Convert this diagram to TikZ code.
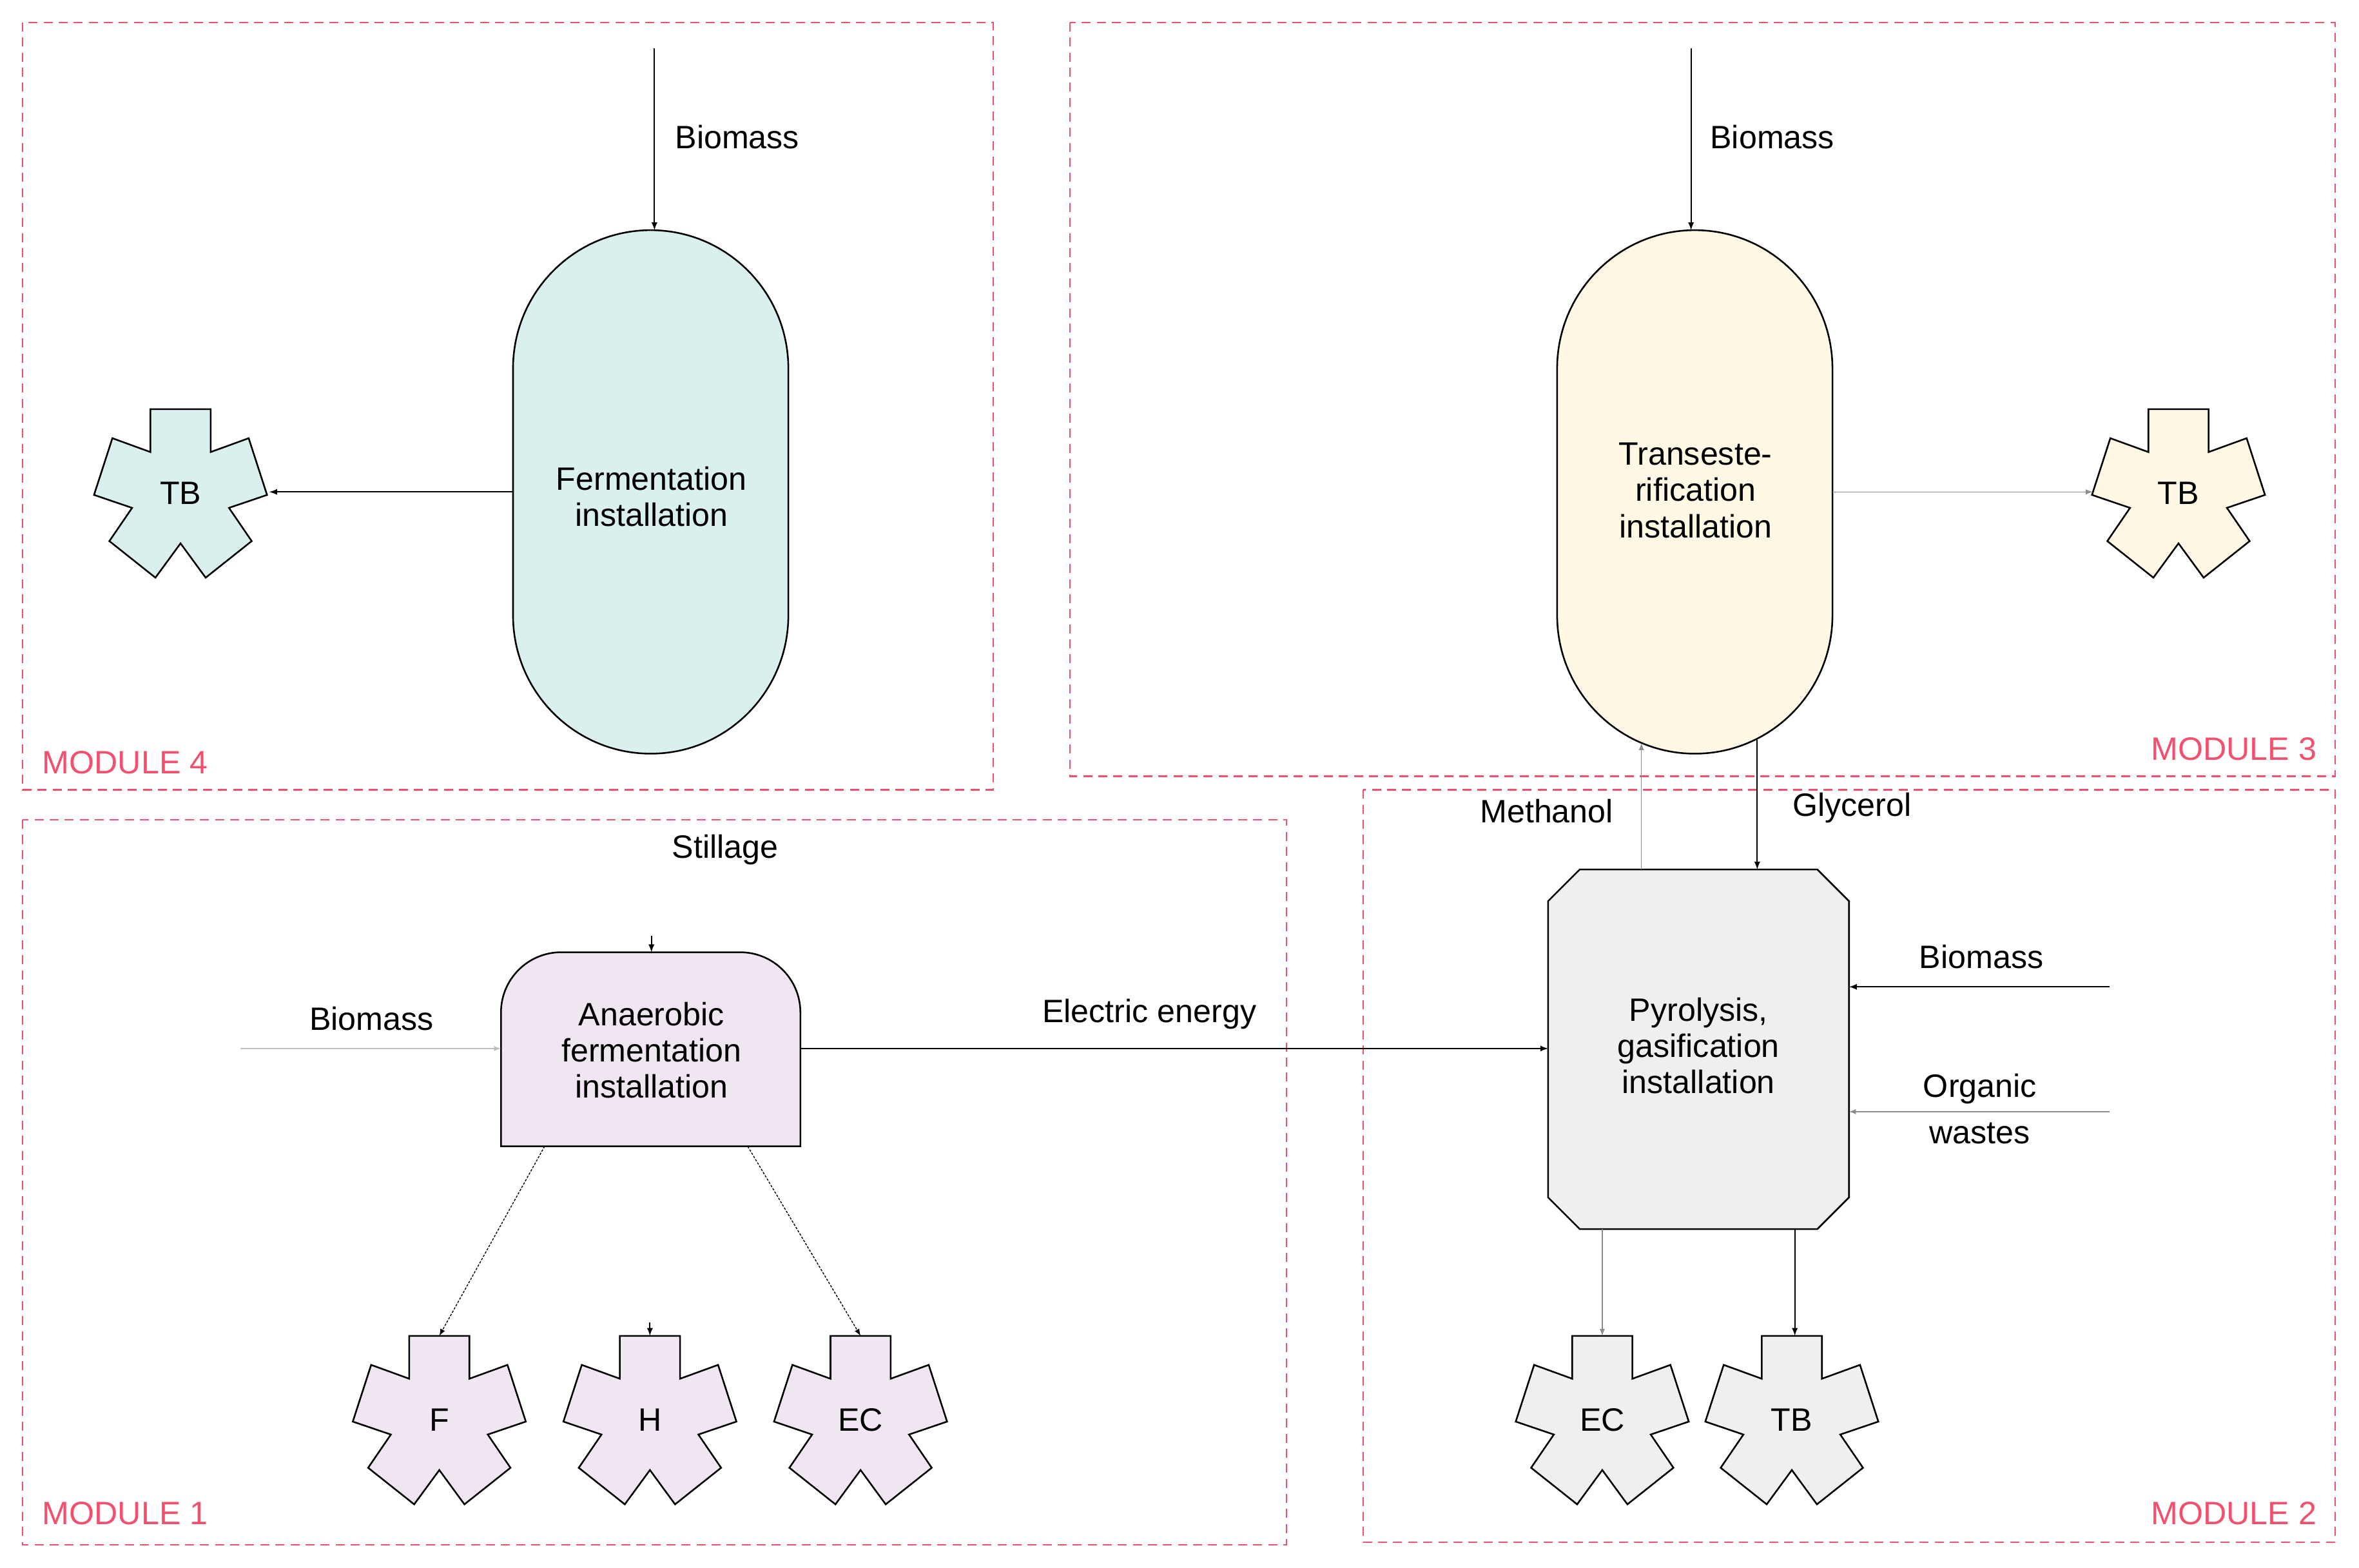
\documentclass[tikz,border=0pt]{standalone}
\usepackage{fontspec}
\setmainfont{Liberation Sans}
\usetikzlibrary{calc}
\begin{document}
\definecolor{modc}{HTML}{F2506E}
\newcommand\mystar[4]{% name, x, y(top), fill
  \draw[fill=#4,line width=1.1pt] (#2,#3) ++(-20,0) -- ++(40,0) -- ++(0,28.5) -- ++(25.3,-9.2) -- ++(12.2,37.7) -- ++(-25.3,8.6) -- ++(15.1,22.1) -- ++(-30.6,24.3) -- ++(-16.7,-22.8) -- ++(-16.7,22.8) -- ++(-30.6,-24.3) -- ++(15.1,-22.1) -- ++(-25.3,-8.6) -- ++(12.2,-37.7) -- ++(25.3,9.2) -- cycle;
  \coordinate (#1) at (#2,#3);}
\begin{tikzpicture}[x=1pt,y=-1pt,
  every node/.style={font=\fontsize{21.5}{24}\selectfont, align=center, inner sep=0},
  module/.style={draw=modc, dash pattern=on 6pt off 4pt, line width=0.9pt},
  mlabel/.style={text=modc},
  arr/.style={-latex, line width=0.8pt},
  arrg/.style={-latex, line width=0.6pt, draw=black!45}]
\useasboundingbox (0,0) rectangle (1568,1042);
% modules
\draw[module] (15,15) rectangle (660,525);
\draw[module] (711,15) rectangle (1552,516);
\draw[module] (15,545) rectangle (855,1027);
\draw[module] (906,525) rectangle (1552,1025);
\node[mlabel, anchor=west] (m4) at (28,507) {MODULE 4};
\node[mlabel, anchor=east] (m3) at (1540,498) {MODULE 3};
\node[mlabel, anchor=west] (m1) at (28,1006) {MODULE 1};
\node[mlabel, anchor=east] (m2) at (1540,1006) {MODULE 2};
% stadiums
\draw[fill={rgb,255:red,218;green,240;blue,238}, line width=1.1pt]
  (341,245) arc[start angle=180,end angle=360,x radius=91.5,y radius=92] -- (524,409) arc[start angle=0,end angle=180,x radius=91.5,y radius=92] -- cycle;
\node (ferm) at (433,330) {Fermentation\\installation};
\draw[fill={rgb,255:red,254;green,248;blue,228}, line width=1.1pt]
  (1035,245) arc[start angle=180,end angle=360,x radius=91.5,y radius=92] -- (1218,409) arc[start angle=0,end angle=180,x radius=91.5,y radius=92] -- cycle;
\node (trans) at (1127,326) {Transeste-\\rification\\installation};
% pyrolysis octagon
\draw[fill={rgb,255:red,238;green,239;blue,241}, line width=1.1pt]
  (1050,578) -- (1208,578) -- (1229,599) -- (1229,796) -- (1208,817) -- (1050,817) -- (1029,796) -- (1029,599) -- cycle;
\node (pyro) at (1129,695) {Pyrolysis,\\gasification\\installation};
% anaerobic
\draw[fill={rgb,255:red,240;green,230;blue,242}, line width=1.1pt]
  (333,762) -- (333,673) arc[start angle=180,end angle=270,radius=40] -- (492,633) arc[start angle=270,end angle=360,radius=40] -- (532,762) -- cycle;
\node (anaer) at (433,698) {Anaerobic\\fermentation\\installation};
% stars
\mystar{tb4}{120}{272}{{rgb,255:red,218;green,240;blue,238}}
\node (tb4t) at (120,328) {TB};
\mystar{tb3}{1448}{272}{{rgb,255:red,254;green,248;blue,228}}
\node (tb3t) at (1448,328) {TB};
\mystar{ec2}{1065}{888}{{rgb,255:red,238;green,239;blue,241}}
\node (ec2t) at (1065,944) {EC};
\mystar{tb2}{1191}{888}{{rgb,255:red,238;green,239;blue,241}}
\node (tb2t) at (1191,944) {TB};
\mystar{f1}{292}{888}{{rgb,255:red,240;green,230;blue,242}}
\node (f1t) at (292,944) {F};
\mystar{h1}{432}{888}{{rgb,255:red,240;green,230;blue,242}}
\node (h1t) at (432,944) {H};
\mystar{ec1}{572}{888}{{rgb,255:red,240;green,230;blue,242}}
\node (ec1t) at (572,944) {EC};
% coordinates
\coordinate (b4s) at (435,32); \coordinate (b4e) at (435,153);
\coordinate (b3s) at (1124,32); \coordinate (b3e) at (1124,153);
\coordinate (fl) at (341,327); \coordinate (tb4r) at (179,327);
\coordinate (tr) at (1218,327); \coordinate (tb3l) at (1391,327);
\coordinate (mb) at (1091,578); \coordinate (mt) at (1091,494);
\coordinate (gt) at (1168,492); \coordinate (gb) at (1168,578);
\coordinate (bps) at (1402,656); \coordinate (bpe) at (1229,656);
\coordinate (ows) at (1402,739); \coordinate (owe) at (1229,739);
\coordinate (pb1) at (1065,817); \coordinate (pb2) at (1193,817);
\coordinate (tb2a) at (1193,888);
\coordinate (sts) at (433,622); \coordinate (ste) at (433,633);
\coordinate (bas) at (160,697); \coordinate (bae) at (333,697);
\coordinate (ees) at (532,697); \coordinate (eee) at (1029,697);
\coordinate (ab1) at (362,762); \coordinate (ab2) at (497,762);
\coordinate (hs) at (432,879);
% connectors
\draw[arr] (b4s) -- (b4e);
\draw[arr] (b3s) -- (b3e);
\draw[arr] (fl) -- (tb4r);
\draw[arrg] (tr) -- (tb3l);
\draw[arrg] (mb) -- (mt);
\draw[arr] (gt) -- (gb);
\draw[arr] (bps) -- (bpe);
\draw[arrg] (ows) -- (owe);
\draw[arrg] (pb1) -- (ec2);
\draw[arr] (pb2) -- (tb2a);
\draw[arr] (sts) -- (ste);
\draw[arrg, draw=black!25] (bas) -- (bae);
\draw[arr] (ees) -- (eee);
\draw[-latex, line width=0.6pt, dash pattern=on 1.5pt off 1pt] (ab1) -- (f1);
\draw[-latex, line width=0.6pt, dash pattern=on 1.5pt off 1pt] (ab2) -- (ec1);
\draw[arr] (hs) -- (h1);
% labels
\node (l1) at (490,91) {Biomass};
\node (l2) at (1178,91) {Biomass};
\node (l3) at (1028,539) {Methanol};
\node (l4) at (1231,537) {Glycerol};
\node (l5) at (1317,636) {Biomass};
\node (l6) at (1316,737) {Organic\\[7pt]wastes};
\node (l7) at (482,565) {Stillage};
\node (l8) at (247,677) {Biomass};
\node (l9) at (764,674) {Electric energy};
\end{tikzpicture}
\end{document}
